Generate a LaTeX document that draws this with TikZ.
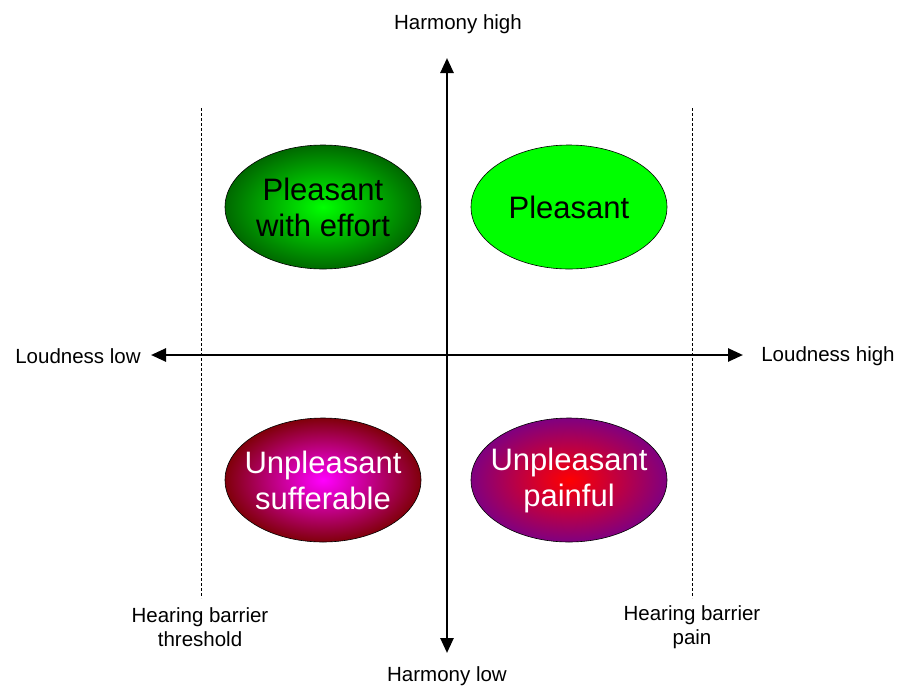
\documentclass[tikz,border=0pt]{standalone}
\usepackage{fontspec}
\setmainfont{Liberation Sans}
\usetikzlibrary{arrows.meta,shapes.geometric}
\definecolor{lime}{RGB}{0,255,0}
\definecolor{dgreen}{RGB}{0,105,0}
\definecolor{dred}{RGB}{128,0,10}
\definecolor{mag}{RGB}{255,0,255}
\definecolor{purp}{RGB}{128,0,128}
\definecolor{rred}{RGB}{255,0,0}
\newcommand{\zw}[1]{\makebox[0pt][c]{#1}}
\tikzset{
  blob/.style={ellipse, draw=black, line width=0.6pt, minimum width=196pt, minimum height=124pt, inner sep=0pt, align=center, font=\fontsize{31}{36}\selectfont},
  lbl/.style={font=\fontsize{20.5}{24}\selectfont, align=center, inner sep=0pt},
  axis/.style={line width=2.6pt, -{Triangle[length=15pt,width=13pt]}},
  barrier/.style={line width=0.6pt, dash pattern=on 3pt off 2pt}
}
\begin{document}
\begin{tikzpicture}[x=1pt,y=-1pt]
\useasboundingbox (0,0) rectangle (897,686);
% barriers
\coordinate (b1t) at (201,108);
\coordinate (b1b) at (201,598);
\coordinate (b2t) at (692,108);
\coordinate (b2b) at (692,598);
\draw[barrier] (b1t) -- (b1b);
\draw[barrier] (b2t) -- (b2b);
% axes
\coordinate (c) at (447,355);
\coordinate (yt) at (447,58);
\coordinate (yb) at (447,653);
\coordinate (xl) at (151,355);
\coordinate (xr) at (743,355);
\draw[axis] (c) -- (yt);
\draw[axis] (c) -- (yb);
\draw[axis] (c) -- (xl);
\draw[axis] (c) -- (xr);
% ellipses
\node[blob, inner color=lime, outer color=dgreen] (pe) at (323,207) {\zw{Pleasant}\\\zw{with effort}};
\node[blob, fill=lime] (p) at (569,207) {\zw{Pleasant}};
\node[blob, inner color=mag, outer color=dred, text=white] (us) at (323,480) {\zw{Unpleasant}\\\zw{sufferable}};
\node[blob, inner color=rred, outer color=purp, text=white] (up) at (569,480) {\zw{Unpleasant}\\\zw{painful}};
% labels
\node[lbl] (hh) at (458,24) {Harmony high};
\node[lbl] (hl) at (447,676) {Harmony low};
\node[lbl] (ll) at (78,356) {Loudness low};
\node[lbl] (lh) at (828,356) {Loudness high};
\node[lbl] (ht) at (200,627) {Hearing barrier\\threshold};
\node[lbl] (hp) at (692,627) {Hearing barrier\\pain};
\end{tikzpicture}
\end{document}
